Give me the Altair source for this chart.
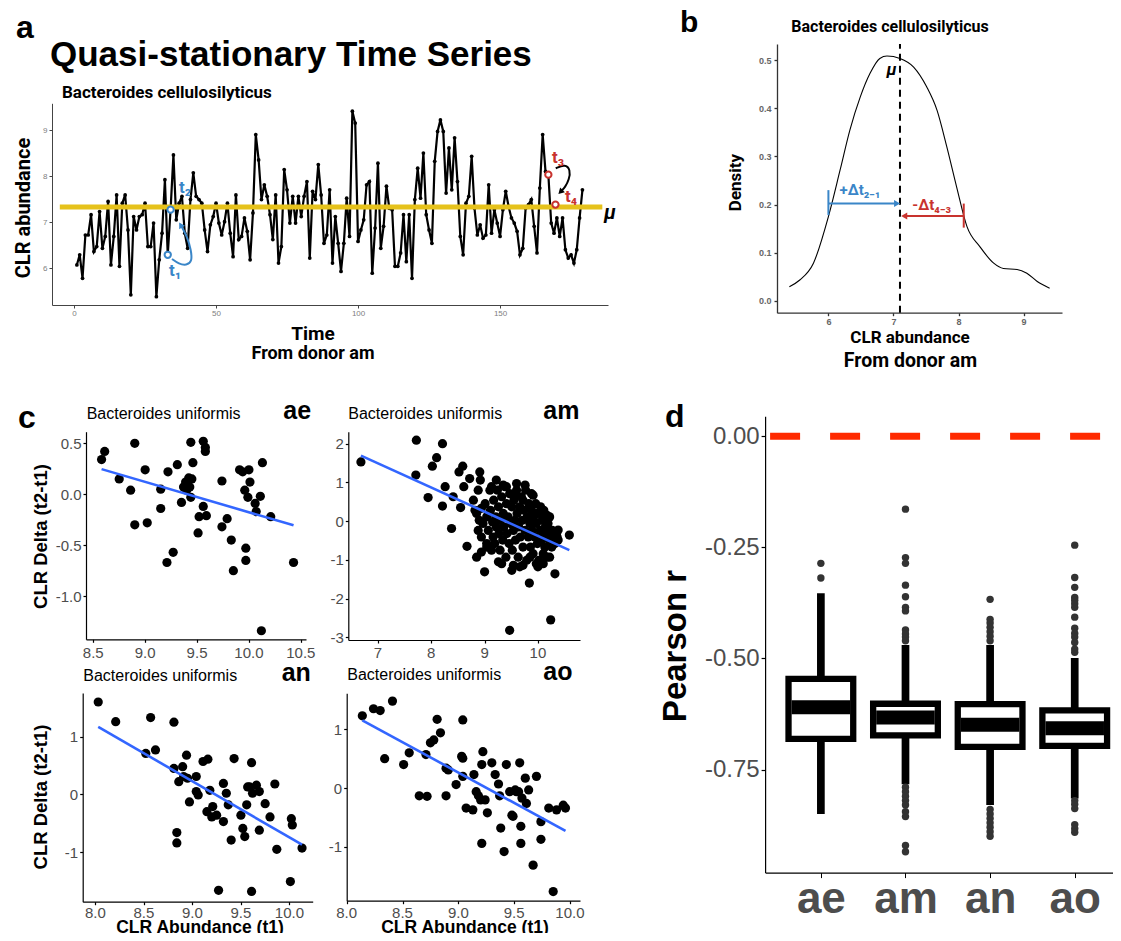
import altair as alt
import pandas as pd

W, H = 1105, 925
BLUE = "#3a86c8"
RED = "#c8332e"
GOLD = "#e6c21b"
GREY = "#4d4d4d"
ARIAL = "Liberation Sans"
ROBOTO = "Roboto"
MINUS = "replace(format(datum.value, '{f}'), '\u2212', '-')"

# ---------------- panel a : time series ----------------
ts_values = [6.07, 6.29, 5.78, 6.72, 6.72, 7.16, 6.36, 6.47, 7.23, 6.43,
             6.69, 7.45, 6.07, 6.69, 7.59, 6.04, 7.41, 7.59, 6.83, 5.42,
             7.12, 6.83, 7.12, 7.16, 7.41, 6.47, 6.47, 6.98, 5.38, 6.18,
             6.76, 7.92, 6.29, 7.27, 8.46, 7.05, 7.41, 7.56, 6.76, 6.43,
             7.49, 8.07, 7.56, 7.49, 7.41, 6.83, 6.36, 6.94, 7.12, 7.41,
             6.98, 6.72, 7.01, 7.41, 6.76, 6.25, 7.59, 6.62, 6.69, 7.09,
             6.80, 6.18, 7.20, 8.90, 8.35, 7.49, 7.81, 7.56, 7.16, 6.62,
             7.59, 6.11, 6.47, 8.14, 7.70, 6.98, 7.56, 6.98, 7.56, 7.12,
             7.56, 7.88, 6.22, 7.67, 7.49, 8.25, 7.59, 6.54, 6.72, 7.70,
             6.11, 7.12, 6.54, 5.93, 6.54, 7.52, 6.69, 9.41, 9.15,
             6.58, 6.83, 7.05, 7.81, 7.88, 5.89, 6.87, 8.28, 6.43, 6.91,
             7.78, 7.30, 7.27, 6.04, 6.04, 6.33, 7.16, 6.14, 7.16, 5.78,
             7.49, 8.17, 7.52, 8.50, 7.16, 6.83, 6.54, 8.32, 8.97, 9.22,
             8.97, 7.63, 8.61, 7.70, 8.83, 7.88, 6.69, 6.29, 7.41, 7.56,
             8.43, 7.30, 6.72, 6.94, 6.65, 6.72, 7.81, 6.76, 7.27, 6.98,
             6.69, 7.27, 7.67, 7.34, 7.09, 6.98, 6.80, 6.29, 6.43, 7.30,
             7.38, 7.49, 6.91, 6.33, 7.74, 8.90, 8.10, 8.03, 6.98, 6.76,
             7.09, 6.69, 7.09, 6.40, 6.22, 6.29, 6.11, 6.40, 7.09, 7.70]
ts_time = list(range(1, len(ts_values) + 1))
ts_mean = 7.33
mean_span = [-5.0, 186.0]
blue_pts_t = [33, 34]
blue_pts_v = [6.29, 7.27]
red_pts_t = [167, 169.5]
red_pts_v = [8.03, 7.38]
blue_curve_t = [34.5, 36.9, 39.6, 41.6, 41.2, 39.8, 37.7]
blue_curve_v = [6.20, 6.09, 6.06, 6.14, 6.40, 6.69, 6.92]
black_curve_t = [169.6, 172.9, 174.8, 174.3, 172.9, 171.5]
black_curve_v = [8.17, 8.26, 8.14, 7.92, 7.76, 7.67]

# ---------------- panel b : density ----------------
dens_x = [5.40, 5.56, 5.77, 6.00, 6.18, 6.33, 6.49, 6.64, 6.79, 6.90, 7.10, 7.31,
          7.51, 7.67, 7.82, 7.97, 8.13, 8.33, 8.54, 8.69, 8.90, 9.05, 9.21, 9.40]
dens_y = [0.029, 0.043, 0.078, 0.175, 0.272, 0.355, 0.424, 0.473, 0.504, 0.509,
          0.504, 0.486, 0.445, 0.396, 0.320, 0.237, 0.154, 0.112, 0.078, 0.067,
          0.065, 0.057, 0.040, 0.026]
dens_mean = 7.10
blue_arrow = [6.0, 7.04, 0.202]
red_arrow = [8.08, 7.18, 0.176]

# ---------------- panel c : scatter plots ----------------
ae_x = [8.58, 8.61, 8.75, 8.86, 8.90, 8.90, 9.00, 9.02, 9.15, 9.15,
        9.21, 9.22, 9.27, 9.31, 9.35, 9.37, 9.39, 9.40, 9.42, 9.43,
        9.44, 9.44, 9.45, 9.46, 9.51, 9.52, 9.56, 9.56, 9.58, 9.58,
        9.59, 9.74, 9.74, 9.79, 9.83, 9.85, 9.91, 9.94, 9.96, 9.97,
        9.97, 9.99, 10.00, 10.01, 10.06, 10.07, 10.11, 10.12, 10.13, 10.21, 10.43]
ae_y = [0.34, 0.42, 0.15, 0.04, -0.30, 0.50, 0.24, -0.28, 0.05, -0.14,
        -0.67, 0.22, -0.57, 0.29, -0.08, 0.07, 0.12, 0.04, 0.16, 0.07,
        -0.03, 0.51, 0.15, 0.31, -0.38, -0.22, -0.12, 0.52, 0.46, 0.42,
        -0.21, -0.32, 0.13, -0.24, -0.45, -0.75, 0.24, 0.22, 0.04, -0.53,
        -0.65, -0.03, 0.24, 0.12, -0.09, -0.17, -0.02, -1.34, 0.31, -0.22, -0.67]

am_pts = [(6.68, 1.53), (7.72, 2.09), (7.71, 1.19), (7.94, 0.61), (8.02, 1.42), (8.10, 1.64),
          (8.21, 2.00), (8.21, 0.39), (8.26, 0.89), (8.38, -0.19), (8.41, 0.63), (8.52, 1.27),
          (8.55, 0.35), (8.59, 1.42), (8.61, 0.89), (8.67, -0.65), (8.72, 1.10), (8.79, 0.54),
          (8.85, -0.93), (8.91, 1.27), (8.92, 1.06), (8.88, 0.80), (8.82, 0.28), (8.94, -0.80),
          (9.00, -1.31), (9.04, -0.67), (9.13, 0.89), (9.26, -1.05), (9.35, 0.93), (9.47, -2.82),
          (9.54, -1.14), (9.57, 0.71), (9.66, -1.18), (9.72, 0.54), (9.84, -1.60), (9.91, 0.67),
          (10.00, -1.18), (10.04, 0.20), (10.10, -0.84), (10.17, 0.15), (10.22, -0.93),
          (10.24, -2.55), (10.32, -1.36), (10.36, -0.41), (10.38, -0.23), (10.59, -0.36),
          (8.85, 0.20), (8.90, 0.02), (8.94, 0.33), (8.97, -0.06), (9.01, 0.45), (9.04, 0.11),
          (9.07, -0.24), (9.10, 0.80), (9.11, 0.28), (9.15, -0.02), (9.16, -0.41), (9.17, 0.54),
          (9.19, -0.58), (9.21, 0.11), (9.22, -0.15), (9.24, 0.80), (9.26, 0.37), (9.27, -0.32),
          (9.29, -0.75), (9.30, 0.02), (9.32, 0.63), (9.34, -0.49), (9.35, 0.20), (9.36, -0.15),
          (9.38, 0.89), (9.40, -0.93), (9.41, 0.45), (9.42, -0.32), (9.44, 0.11), (9.46, -0.58),
          (9.47, 0.71), (9.49, -0.06), (9.51, 0.37), (9.52, -0.75), (9.54, -0.24), (9.55, 0.54),
          (9.57, 0.02), (9.58, -0.49), (9.60, 0.80), (9.61, 0.20), (9.63, -0.93), (9.64, -0.15),
          (9.66, 0.37), (9.67, -0.41), (9.69, 0.63), (9.71, 0.02), (9.72, -0.67), (9.74, 0.28),
          (9.76, -0.24), (9.77, 0.80), (9.79, -1.01), (9.80, 0.11), (9.82, -0.41), (9.83, 0.45),
          (9.85, -0.06), (9.86, -0.67), (9.88, 0.28), (9.89, -0.24), (9.91, -0.84), (9.92, 0.11),
          (9.94, -0.41), (9.96, 0.45), (9.97, -0.06), (9.99, -0.58), (10.00, 0.20), (10.02, -1.01),
          (10.04, -0.24), (10.05, 0.37), (10.07, -0.49), (10.08, 0.02), (10.10, -0.32), (10.11, 0.28),
          (10.13, -0.67), (10.14, -0.15), (10.16, -0.41), (10.17, -0.93), (10.19, -0.06), (10.21, -0.49),
          (10.22, 0.11), (10.24, -0.32), (10.26, -0.67), (10.27, -0.24), (10.29, -0.45), (10.32, -0.58),
          (10.35, -0.32), (10.38, -0.49), (9.22, 1.06), (9.41, 0.89), (9.60, 0.97), (9.76, 0.93),
          (9.88, 0.71), (9.32, -1.10), (9.51, -1.27), (9.72, -1.14), (9.85, -0.93), (9.97, -1.10),
          (10.10, -1.10), (9.04, -0.58), (9.13, -0.75), (8.94, -0.41), (8.88, -0.24)]

an_pts = [(8.03, 1.60), (8.21, 1.26), (8.57, 1.33), (8.52, 0.71), (8.62, 0.77), (8.81, 1.25),
          (8.81, 0.45), (8.91, 0.31), (8.90, 0.48), (8.94, 0.68), (8.86, 0.22), (8.95, 0.28),
          (8.97, -0.13), (9.04, 0.31), (9.04, 0.05), (9.06, -0.01), (9.11, 0.57), (9.16, 0.61),
          (9.15, -0.30), (9.18, 0.07), (9.20, -0.39), (9.21, -0.21), (9.25, -0.36), (9.32, -0.47),
          (9.32, 0.19), (9.35, 0.02), (9.37, -0.18), (9.40, -0.79), (9.43, 0.62), (9.50, -0.36),
          (9.52, -0.59), (9.54, -0.73), (9.56, -0.18), (9.57, 0.13), (9.59, 0.13), (9.61, 0.55),
          (9.62, 0.02), (9.66, 0.16), (9.69, -0.62), (9.69, 0.05), (9.75, -0.16), (9.80, -0.39),
          (9.85, 0.18), (9.87, -0.95), (10.02, -0.42), (10.03, -0.53), (10.13, -0.93),
          (8.84, -0.66), (8.84, -0.84), (9.27, -1.66), (9.61, -1.68), (10.01, -1.51)]

ao_pts = [(8.14, 1.23), (8.24, 1.35), (8.30, 1.32), (8.41, 1.48), (8.34, 0.50), (8.51, 0.40),
          (8.56, 0.60), (8.65, -0.13), (8.72, -0.14), (8.71, 0.57), (8.75, 0.77), (8.78, 0.82),
          (8.81, 1.17), (8.84, 0.94), (8.89, 0.34), (8.91, 0.31), (8.89, -0.13), (8.98, 0.06),
          (9.03, 0.54), (9.04, 0.51), (9.04, 1.16), (9.04, 0.20), (9.07, -0.34), (9.13, -0.37),
          (9.14, 0.23), (9.16, -0.06), (9.18, -0.13), (9.20, -0.20), (9.21, -0.94), (9.21, 0.40),
          (9.22, 0.62), (9.24, -0.20), (9.26, -0.42), (9.30, 0.43), (9.33, 0.23), (9.36, 0.07),
          (9.37, -0.13), (9.38, -0.68), (9.41, -1.08), (9.43, 0.40), (9.46, -0.06), (9.48, -0.46),
          (9.49, -0.48), (9.51, -0.03), (9.52, -0.06), (9.54, -0.06), (9.55, 0.43), (9.56, -0.65),
          (9.56, -0.94), (9.57, -0.17), (9.60, 0.17), (9.61, -0.26), (9.63, -0.03), (9.67, -1.31),
          (9.70, 0.20), (9.74, -0.87), (9.74, -0.57), (9.81, -0.34), (9.85, -1.76), (9.88, -0.37),
          (9.94, -0.29), (9.96, -0.34)]

# ---------------- panel d : box plots ----------------
donors = ["ae", "am", "an", "ao"]
box_pos = [1, 2, 3, 4]
box_q1 = [-0.681, -0.673, -0.699, -0.697]
box_q3 = [-0.546, -0.602, -0.603, -0.617]
box_med = [-0.610, -0.633, -0.649, -0.657]
box_lo = [-0.850, -0.783, -0.830, -0.815]
box_hi = [-0.353, -0.470, -0.470, -0.499]
out_ae = [-0.286, -0.319]
out_am = [-0.164, -0.273, -0.286, -0.335, -0.361, -0.385, -0.393, -0.436, -0.445, -0.452,
          -0.46, -0.79, -0.80, -0.81, -0.82, -0.83, -0.845, -0.856, -0.921, -0.935]
out_an = [-0.367, -0.412, -0.42, -0.43, -0.44, -0.45, -0.46,
          -0.84, -0.85, -0.86, -0.87, -0.88, -0.89, -0.90]
out_ao = [-0.245, -0.318, -0.340, -0.363, -0.369, -0.377, -0.385, -0.407, -0.432, -0.444,
          -0.452, -0.464, -0.479, -0.486, -0.82, -0.828, -0.838, -0.874, -0.883, -0.891]


# ---------------- helpers ----------------
def sc(domain, rng):
    return alt.Scale(domain=domain, range=rng, nice=False, zero=False)


def axis(orient, offset, values, size, color, fmt=None, weight="normal", tick=3,
         pad=2, dcolor="black", dwidth=1, **kw):
    extra = {}
    if fmt:
        extra["labelExpr"] = MINUS.format(f=fmt)
    return alt.Axis(orient=orient, offset=offset, values=values, title=None, grid=False,
                    labelFontSize=size, labelColor=color, labelFont=ARIAL,
                    labelFontWeight=weight, tickSize=tick, tickColor=dcolor,
                    domainColor=dcolor, domainWidth=dwidth, tickWidth=dwidth,
                    labelPadding=pad, labelOverlap=False, **extra, **kw)


def label(s, x, y, size, weight="bold", font=ARIAL, color="black", angle=0,
          align="left", baseline="alphabetic", style="normal"):
    return alt.Chart(alt.Data(values=[{"k": 0}])).mark_text(
        text=s, fontSize=size, fontWeight=weight, font=font, color=color,
        angle=angle, align=align, baseline=baseline, fontStyle=style
    ).encode(x=alt.value(x), y=alt.value(y))


# ---------------- panel a ----------------
sxa = sc([-7.75, 188], [44, 600])
sya = sc([5.2, 9.58], [297, 95.3])
axa = axis("bottom", 297 - H, [0, 50, 100, 150], 8, "#808080", pad=1.5, dcolor="#444")
aya = axis("left", -44, [6, 7, 8, 9], 8, "#808080", pad=2, dcolor="#444")


def XA(f):
    return alt.X(f, type="quantitative", scale=sxa, axis=axa)


def YA(f):
    return alt.Y(f, type="quantitative", scale=sya, axis=aya)


ts_df = pd.DataFrame({"t": ts_time, "v": ts_values})
a_line = alt.Chart(ts_df).mark_line(color="black", strokeWidth=2.2).encode(x=XA("t"), y=YA("v"))
a_pts = alt.Chart(ts_df).mark_circle(color="black", size=14, opacity=1).encode(x=XA("t"), y=YA("v"))
a_mean = alt.Chart(pd.DataFrame({"x0": [mean_span[0]], "x1": [mean_span[1]], "m": [ts_mean]})).mark_rule(
    color=GOLD, strokeWidth=5).encode(x=XA("x0"), x2="x1:Q", y=YA("m"))
bc_df = pd.DataFrame({"t": blue_curve_t, "v": blue_curve_v, "o": list(range(len(blue_curve_t)))})
a_bcurve = alt.Chart(bc_df).mark_line(color=BLUE, strokeWidth=2, interpolate="basis").encode(
    x=XA("t"), y=YA("v"), order="o:Q")
a_bhead = alt.Chart(bc_df.tail(1)).mark_point(shape="triangle", angle=330, filled=True, size=45,
                                              color=BLUE, opacity=1).encode(x=XA("t"), y=YA("v"))
kc_df = pd.DataFrame({"t": black_curve_t, "v": black_curve_v, "o": list(range(len(black_curve_t)))})
a_kcurve = alt.Chart(kc_df).mark_line(color="black", strokeWidth=2, interpolate="basis").encode(
    x=XA("t"), y=YA("v"), order="o:Q")
a_khead = alt.Chart(kc_df.tail(1)).mark_point(shape="triangle", angle=225, filled=True, size=45,
                                              color="black", opacity=1).encode(x=XA("t"), y=YA("v"))
a_bcirc = alt.Chart(pd.DataFrame({"t": blue_pts_t, "v": blue_pts_v})).mark_point(
    shape="circle", size=40, color=BLUE, fill="white", filled=False, strokeWidth=2, opacity=1
).encode(x=XA("t"), y=YA("v"))
a_rcirc = alt.Chart(pd.DataFrame({"t": red_pts_t, "v": red_pts_v})).mark_point(
    shape="circle", size=40, color=RED, fill="white", filled=False, strokeWidth=2, opacity=1
).encode(x=XA("t"), y=YA("v"))
panel_a = alt.layer(a_line, a_pts, a_bcurve, a_bhead, a_kcurve, a_khead, a_mean, a_bcirc, a_rcirc)

# ---------------- panel b ----------------
sxb = sc([5.21, 9.59], [769, 1054])
syb = sc([-0.025, 0.534], [304.7, 36])
axb = axis("bottom", 304.7 - H, [6, 7, 8, 9], 9, "#666", weight="bold", pad=2, dcolor="#333", dwidth=1.3)
ayb = axis("left", -769, [0, 0.1, 0.2, 0.3, 0.4, 0.5], 9, "#666", fmt=".1f", weight="bold",
           pad=3, dcolor="#333", dwidth=1.3)


def XB(f):
    return alt.X(f, type="quantitative", scale=sxb, axis=axb)


def YB(f):
    return alt.Y(f, type="quantitative", scale=syb, axis=ayb)


b_curve = alt.Chart(pd.DataFrame({"x": dens_x, "y": dens_y})).mark_line(
    color="black", strokeWidth=1.1, interpolate="monotone").encode(x=XB("x"), y=YB("y"))
b_mean = alt.Chart(pd.DataFrame({"x": [dens_mean], "y0": [-0.025], "y1": [0.534]})).mark_rule(
    color="black", strokeWidth=2, strokeDash=[7, 5]).encode(x=XB("x"), y=YB("y0"), y2="y1:Q")
b_blue = alt.Chart(pd.DataFrame({"x0": [blue_arrow[0]], "x1": [blue_arrow[1]], "y": [blue_arrow[2]]})).mark_rule(
    color=BLUE, strokeWidth=2).encode(x=XB("x0"), x2="x1:Q", y=YB("y"))
b_bluetick = alt.Chart(pd.DataFrame({"x": [blue_arrow[0]], "y0": [0.178], "y1": [0.230]})).mark_rule(
    color=BLUE, strokeWidth=2).encode(x=XB("x"), y=YB("y0"), y2="y1:Q")
b_bluehead = alt.Chart(pd.DataFrame({"x": [blue_arrow[1]], "y": [blue_arrow[2]]})).mark_point(
    shape="triangle", angle=90, filled=True, size=50, color=BLUE, opacity=1).encode(x=XB("x"), y=YB("y"))
b_red = alt.Chart(pd.DataFrame({"x0": [red_arrow[0]], "x1": [red_arrow[1]], "y": [red_arrow[2]]})).mark_rule(
    color=RED, strokeWidth=2).encode(x=XB("x0"), x2="x1:Q", y=YB("y"))
b_redtick = alt.Chart(pd.DataFrame({"x": [red_arrow[0]], "y0": [0.152], "y1": [0.202]})).mark_rule(
    color=RED, strokeWidth=2).encode(x=XB("x"), y=YB("y0"), y2="y1:Q")
b_redhead = alt.Chart(pd.DataFrame({"x": [red_arrow[1]], "y": [red_arrow[2]]})).mark_point(
    shape="triangle", angle=270, filled=True, size=50, color=RED, opacity=1).encode(x=XB("x"), y=YB("y"))
panel_b = alt.layer(b_curve, b_mean, b_blue, b_bluetick, b_bluehead, b_red, b_redtick, b_redhead)


# ---------------- panel c ----------------
def scatter(xs, ys, xdom, xrng, ydom, yrng, xvals, xfmt, yvals, yfmt, label_base):
    sx = sc(xdom, xrng)
    sy = sc(ydom, yrng)
    ax = axis("bottom", yrng[0] - H, xvals, 15, GREY, pad=1.5, dwidth=1.2, labels=False)
    ay = axis("left", -xrng[0], yvals, 15, GREY, fmt=yfmt, pad=2, dwidth=1.2)
    df = pd.DataFrame({"x": xs, "y": ys})
    enc = dict(x=alt.X("x", type="quantitative", scale=sx, axis=ax),
               y=alt.Y("y", type="quantitative", scale=sy, axis=ay))
    pts = alt.Chart(df).mark_circle(color="black", size=85, opacity=1).encode(**enc)
    fit = alt.Chart(df).transform_regression("x", "y").mark_line(
        color="#3366FF", strokeWidth=2.6).encode(**enc)
    tick_df = pd.DataFrame({"x": xvals, "lab": [format(v, xfmt) for v in xvals]})
    ticks = alt.Chart(tick_df).mark_text(fontSize=15, font=ARIAL, color=GREY, align="center",
                                         baseline="alphabetic").encode(
        x=alt.X("x", type="quantitative", scale=sx, axis=ax), y=alt.value(label_base), text="lab:N")
    return alt.layer(pts, fit, ticks)


panel_ae = scatter(ae_x, ae_y, [8.43, 10.55], [78, 298], [-1.424, 0.614], [631.3, 423.7],
                   [8.5, 9.0, 9.5, 10.0, 10.5], ".1f", [0.5, 0.0, -0.5, -1.0], ".1f", 649.5)
panel_am = scatter([p[0] for p in am_pts], [p[1] for p in am_pts], [6.443, 10.79], [340.3, 572],
                   [-3.07, 2.31], [632, 423.7], [7, 8, 9, 10], "d", [2, 1, 0, -1, -2, -3], "d", 649.5)
panel_an = scatter([p[0] for p in an_pts], [p[1] for p in an_pts], [7.87, 10.24], [74.7, 304.7],
                   [-1.858, 1.756], [893.7, 685], [8.0, 8.5, 9.0, 9.5, 10.0], ".1f", [1, 0, -1], "d",
                   909.5)
panel_ao = scatter([p[0] for p in ao_pts], [p[1] for p in ao_pts], [8.0, 10.09], [338.7, 572],
                   [-1.915, 1.613], [892.7, 685.3], [8.0, 8.5, 9.0, 9.5, 10.0], ".1f", [1, 0, -1], "d",
                   909.5)

# ---------------- panel d ----------------
sxd = sc([0.4, 4.6], [757.1, 1122.5])
syd = sc([-0.982, 0.045], [864.6, 408.3])
axd = alt.Axis(orient="bottom", offset=864.6 - H, values=box_pos, title=None, grid=False,
               labelExpr="['', 'ae', 'am', 'an', 'ao'][datum.value]", labelFontSize=44,
               labelFontWeight="bold", labelColor=GREY, labelFont=ARIAL, tickSize=5,
               tickColor="black", domainColor="black", domainWidth=1.2, labelPadding=0)
ayd = axis("left", -757.1, [0.0, -0.25, -0.5, -0.75], 24, GREY, fmt=".2f", tick=4, pad=2, dwidth=1.2)


def XD(f):
    return alt.X(f, type="quantitative", scale=sxd, axis=axd)


def YD(f):
    return alt.Y(f, type="quantitative", scale=syd, axis=ayd)


box_df = pd.DataFrame({"donor": donors, "pos": box_pos, "q1": box_q1, "q3": box_q3,
                       "med": box_med, "lo": box_lo, "hi": box_hi})
out_rows = ([(1, v) for v in out_ae] + [(2, v) for v in out_am] +
            [(3, v) for v in out_an] + [(4, v) for v in out_ao])
out_df = pd.DataFrame({"pos": [r[0] for r in out_rows], "r": [r[1] for r in out_rows]})

d_zero = alt.Chart(pd.DataFrame({"x0": [0.4], "x1": [4.6], "y": [0.0]})).mark_rule(
    color="#ff2a00", strokeWidth=7, strokeDash=[30, 30]).encode(x=XD("x0"), x2="x1:Q", y=YD("y"))
d_whisk = alt.Chart(box_df).mark_rule(color="black", strokeWidth=7.7).encode(
    x=XD("pos"), y=YD("lo"), y2="hi:Q")
d_out = alt.Chart(out_df).mark_circle(color="#333333", size=55, opacity=1).encode(x=XD("pos"), y=YD("r"))
d_box = alt.Chart(box_df).mark_bar(fill="white", stroke="black", strokeWidth=6.3, size=64.7,
                                   orient="vertical").encode(x=XD("pos"), y=YD("q1"), y2="q3:Q")
d_med = alt.Chart(box_df).mark_tick(color="black", orient="horizontal", size=58.5, thickness=14,
                                    opacity=1).encode(x=XD("pos"), y=YD("med"))
panel_d = alt.layer(d_zero, d_whisk, d_out, d_box, d_med)

# ---------------- texts ----------------
texts = [
    label("a", 8, 30, 32),
    label("Quasi-stationary Time Series", 42, 58, 35),
    label("Bacteroides cellulosilyticus", 54, 90, 17, font=ROBOTO),
    label("CLR abundance", 16, 200, 20, font=ROBOTO, angle=270, align="center", baseline="middle"),
    label("Time", 305, 332, 19, font=ROBOTO, align="center"),
    label("From donor am", 305, 351, 18, font=ROBOTO, align="center"),
    label("μ", 602, 205, 20, font=ROBOTO, style="italic", align="center", baseline="middle"),
    label("t₁", 167, 263, 17, font=ROBOTO, color=BLUE, align="center", baseline="middle"),
    label("t₂", 177, 180, 17, font=ROBOTO, color=BLUE, align="center", baseline="middle"),
    label("t₃", 550, 150, 17, font=ROBOTO, color=RED, align="center", baseline="middle"),
    label("t₄", 563, 189, 17, font=ROBOTO, color=RED, align="center", baseline="middle"),
    label("b", 672, 24, 30),
    label("Bacteroides cellulosilyticus", 882, 24, 16, font=ROBOTO, align="center"),
    label("Density", 727.5, 174.5, 17, font=ROBOTO, angle=270, align="center", baseline="middle"),
    label("CLR abundance", 902, 334.7, 17, font=ROBOTO, align="center"),
    label("From donor am", 902.5, 358.7, 19.5, font=ROBOTO, align="center"),
    label("μ", 883.7, 62, 17, font=ROBOTO, style="italic", align="center", baseline="middle"),
    label("+Δt₂₋₁", 852, 182, 15, font=ROBOTO, color=BLUE, align="center", baseline="middle"),
    label("-Δt₄₋₃", 923.7, 197, 15, font=ROBOTO, color=RED, align="center", baseline="middle"),
    label("c", 10, 420, 32),
    label("Bacteroides uniformis", 78.7, 411.3, 16, weight="normal"),
    label("Bacteroides uniformis", 340.3, 411.3, 16, weight="normal"),
    label("Bacteroides uniformis", 75.3, 672.7, 16, weight="normal"),
    label("Bacteroides uniformis", 339.3, 672, 16, weight="normal"),
    label("ae", 275.3, 411.3, 25),
    label("am", 535.3, 411.3, 25),
    label("an", 273.7, 672.7, 25),
    label("ao", 535.3, 672, 25),
    label("CLR Delta (t2-t1)", 33, 528.5, 18.5, angle=270, align="center", baseline="middle"),
    label("CLR Delta (t2-t1)", 33, 789, 18.5, angle=270, align="center", baseline="middle"),
    label("CLR Abundance (t1)", 192, 925, 17.5, align="center"),
    label("CLR Abundance (t1)", 457, 925, 17.5, align="center"),
    label("d", 657, 419, 32),
    label("Pearson r", 668, 638, 33, angle=270, align="center", baseline="middle"),
]

chart = alt.layer(panel_a, panel_b, panel_ae, panel_am, panel_an, panel_ao, panel_d, *texts).resolve_scale(
    x="independent", y="independent"
).properties(
    width=W, height=H, padding=0, autosize=alt.AutoSizeParams(type="none")
).configure_view(stroke=None).configure_axis(grid=False)

chart.save("out.html", embed_options={"renderer": "svg", "actions": False})
